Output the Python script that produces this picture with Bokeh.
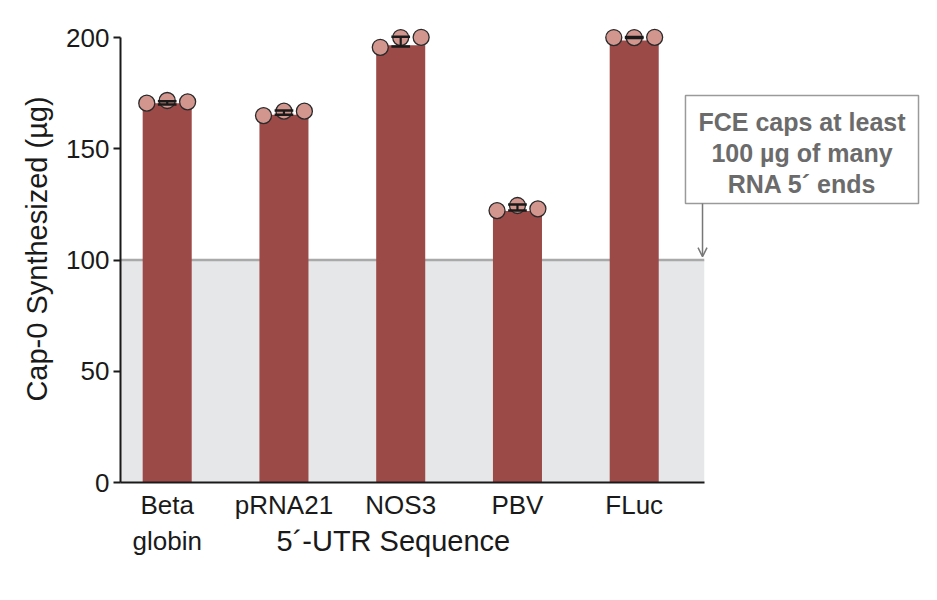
from bokeh.plotting import figure
from bokeh.models import Range1d, FixedTicker, Arrow, OpenHead, Title
from bokeh.embed import file_html
from bokeh.resources import INLINE
from bokeh.core.properties import value

# ---- data ----
categories = ["Beta\nglobin", "pRNA21", "NOS3", "PBV", "FLuc"]
bar_heights = [170.5, 165.3, 196.5, 122.0, 198.7]
rep1 = [170.5, 164.9, 195.6, 122.2, 200.0]
rep2 = [171.7, 166.9, 200.0, 124.5, 200.0]
rep3 = [171.1, 166.9, 200.1, 123.0, 200.1]
err_upper = [171.4, 167.2, 200.4, 124.9, 200.2]
err_lower = [169.9, 165.3, 196.0, 122.2, 199.8]
y_ticks = [0, 50, 100, 150, 200]
threshold = 100
note_lines = ["FCE caps at least", "100 \u00b5g of many", "RNA 5\u00b4 ends"]
x_title = "5\u00b4-UTR Sequence"
y_title = "Cap-0 Synthesized (\u00b5g)"

FONT = "Liberation Sans"
BAR_COLOR = "#9c4a48"
DOT_FILL = "#d2968f"

n = len(categories)
xs = list(range(n))
x_lo, x_hi = -0.4, n - 0.4

p = figure(width=937, height=600, output_backend="svg", toolbar_location=None,
           x_range=Range1d(x_lo, 6.452), y_range=Range1d(0, 209.9),
           min_border_left=120, min_border_right=17, min_border_top=15, min_border_bottom=118)
p.outline_line_color = None
p.xgrid.grid_line_color = None
p.ygrid.grid_line_color = None
p.background_fill_color = "white"

# shaded region below threshold and threshold line
p.quad(left=[x_lo], right=[x_hi], bottom=[0], top=[threshold], fill_color="#e6e7e9", line_color=None)
p.segment(x0=[x_lo], x1=[x_hi], y0=[threshold], y1=[threshold], line_color="#a9a9a9", line_width=2.5)

# bars
p.vbar(x=xs, top=bar_heights, width=0.42, bottom=0, fill_color=BAR_COLOR, line_color=None)

# replicate dots
off = 0.175
for dx, reps in zip([-off, 0.0, off], [rep1, rep2, rep3]):
    p.scatter(x=[x + dx for x in xs], y=reps, size=16, fill_color=DOT_FILL,
              line_color="#2a2a2a", line_width=1.3)

# error bars
cw = 0.08
p.segment(x0=xs, x1=xs, y0=err_lower, y1=err_upper, line_color="#1a1a1a", line_width=2.2)
p.segment(x0=[x - cw for x in xs], x1=[x + cw for x in xs], y0=err_upper, y1=err_upper,
          line_color="#1a1a1a", line_width=2.5)
p.segment(x0=[x - cw for x in xs], x1=[x + cw for x in xs], y0=err_lower, y1=err_lower,
          line_color="#1a1a1a", line_width=2.5)

# annotation box
p.quad(left=[4.439], right=[6.435], bottom=[125.4], top=[173.9], fill_color="white",
       line_color="#9a9a9a", line_width=1.5)
p.text(x=[5.437] * 3, y=[161.9, 147.9, 134.2], text=note_lines, text_font=value(FONT),
       text_font_style="bold", text_font_size="25px", text_color="#6b6b6b",
       text_align="center", text_baseline="middle")
p.add_layout(Arrow(end=OpenHead(size=9, line_color="#777777", line_width=1.5),
                   x_start=4.585, y_start=125.4, x_end=4.585, y_end=101.5,
                   line_color="#777777", line_width=1.5))

# axes
for ax in (p.xaxis, p.yaxis):
    ax.axis_line_color = "#1a1a1a"
    ax.axis_line_width = 2
    ax.major_tick_line_color = "#1a1a1a"
    ax.major_tick_line_width = 2
    ax.minor_tick_line_color = None
    ax.major_label_text_font = FONT
    ax.major_label_text_font_size = "26px"
    ax.major_label_text_color = "#1a1a1a"
    ax.axis_label_text_font = FONT
    ax.axis_label_text_font_size = "29px"
    ax.axis_label_text_font_style = "normal"
    ax.axis_label_text_color = "#1a1a1a"

p.yaxis.ticker = FixedTicker(ticks=y_ticks)
p.yaxis.bounds = (0, 200)
p.yaxis.major_tick_in = 0
p.yaxis.major_tick_out = 7
p.yaxis.major_label_standoff = 4
p.yaxis.axis_label = y_title
p.yaxis.axis_label_standoff = 10

p.xaxis.ticker = FixedTicker(ticks=xs)
p.xaxis.bounds = (x_lo, x_hi)
p.xaxis.major_tick_in = 0
p.xaxis.major_tick_out = 0
p.xaxis.major_label_standoff = 7
p.xaxis.major_label_overrides = {x: c for x, c in zip(xs, categories)}

# x-axis title: beside the second line of the first tick label, as in the reference
p.add_layout(Title(text=x_title, align="left", offset=156, vertical_align="top", standoff=-68,
                   text_font=FONT, text_font_size="29px", text_font_style="normal",
                   text_color="#1a1a1a"), "below")

open("out.html", "w").write(file_html(p, INLINE))
